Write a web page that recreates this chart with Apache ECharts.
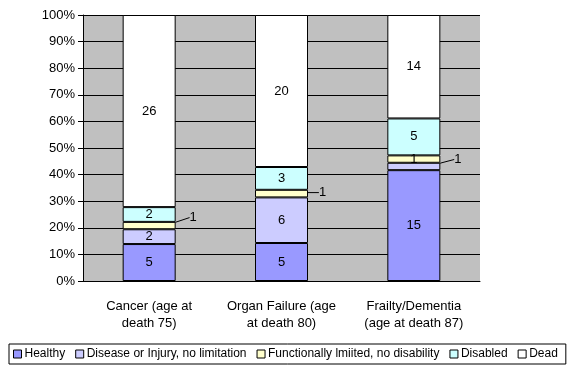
<!DOCTYPE html>
<html><head><meta charset="utf-8">
<script src="https://cdn.jsdelivr.net/npm/echarts@6/dist/echarts.min.js"></script>
<style>html,body{margin:0;padding:0;background:#fff}#c{width:576px;height:374px}</style>
</head><body><div id="c"></div>
<script>
const categories = ['Cancer (age at\ndeath 75)', 'Organ Failure (age\nat death 80)', 'Frailty/Dementia\n(age at death 87)'];
const seriesNames = ['Healthy', 'Disease or Injury, no limitation', 'Functionally lmiited, no disability', 'Disabled', 'Dead'];
const healthy = [5, 5, 15];
const disease = [2, 6, 1];
const functional = [1, 1, 1];
const disabled = [2, 3, 5];
const dead = [26, 20, 14];
const yTicks = [0, 10, 20, 30, 40, 50, 60, 70, 80, 90, 100];

const colors = ['#9999FF', '#CCCCFF', '#FFFFCC', '#CCFFFF', '#FFFFFF'];
const raw = [healthy, disease, functional, disabled, dead];
const totals = categories.map((_, i) => raw.reduce((s, a) => s + a[i], 0));
// label offsets for small segments that have callout labels: [seriesIndex, dataIndex, dx, dy]
const callouts = [[1, 2, 44, -7], [2, 0, 44, -8], [2, 1, 41, -1]];
const FONT = 'Liberation Sans, Arial, sans-serif';

const series = raw.map((arr, si) => ({
  name: seriesNames[si],
  type: 'bar',
  stack: 'total',
  barWidth: 53,
  itemStyle: { color: colors[si], borderColor: '#000', borderWidth: 1 },
  label: {
    show: true, position: 'inside', color: '#000', fontFamily: FONT, fontSize: 13,
    formatter: p => String(raw[p.seriesIndex][p.dataIndex])
  },
  labelLayout: p => {
    const c = callouts.find(o => o[0] === p.seriesIndex && o[1] === p.dataIndex);
    return c ? { dx: c[2], dy: c[3] } : {};
  },
  data: arr.map((v, i) => {
    const c = callouts.find(o => o[0] === si && o[1] === i);
    const d = { value: v / totals[i] * 100 };
    if (c) d.labelLine = { show: true, lineStyle: { color: '#000', width: 1 } };
    return d;
  })
}));

const chart = echarts.init(document.getElementById('c'), null, { renderer: 'canvas' });
chart.setOption({
  animation: false,
  backgroundColor: '#fff',
  grid: { left: 83, right: 96, top: 15, bottom: 93, show: true, backgroundColor: '#C0C0C0', borderWidth: 0 },
  legend: {
    bottom: 10, left: 9, right: 12,
    padding: [4, 8, 4, 4],
    borderColor: '#000', borderWidth: 1, backgroundColor: '#fff',
    itemWidth: 8, itemHeight: 8, itemGap: 10,
    icon: 'rect',
    textStyle: { fontFamily: FONT, fontSize: 12, color: '#000', padding: [0, 0, 0, -2] },
    data: seriesNames.map((n, i) => ({ name: n, itemStyle: { color: colors[i], borderColor: '#000', borderWidth: 1 } }))
  },
  xAxis: {
    type: 'category', data: categories,
    axisLine: { lineStyle: { color: '#000' } },
    axisTick: { lineStyle: { color: '#000' }, length: 5 },
    axisLabel: { color: '#000', fontFamily: FONT, fontSize: 13, lineHeight: 17, margin: 17, interval: 0 }
  },
  yAxis: {
    type: 'value', min: yTicks[0], max: yTicks[yTicks.length - 1], interval: yTicks[1] - yTicks[0],
    axisLine: { show: true, lineStyle: { color: '#000' } },
    axisTick: { show: true, lineStyle: { color: '#000' }, length: 5 },
    axisLabel: { color: '#000', fontFamily: FONT, fontSize: 13, formatter: '{value}%', margin: 8 },
    splitLine: { lineStyle: { color: '#000' } }
  },
  series: series
});
</script></body></html>
